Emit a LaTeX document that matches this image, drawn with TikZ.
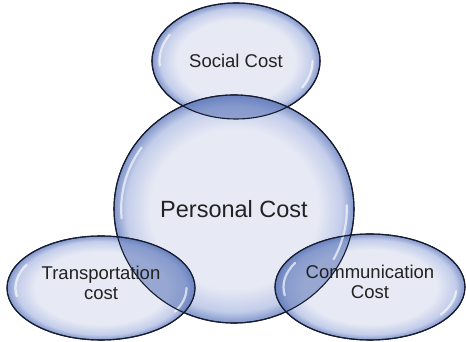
\documentclass[tikz,border=0pt]{standalone}
\usepackage{fontspec}
\setmainfont{Liberation Sans}
\usetikzlibrary{shapes.geometric}

\definecolor{bubin}{HTML}{E7EAF5}
\definecolor{bubmid}{HTML}{C3CDEA}
\definecolor{bubedge}{HTML}{8296CB}
\definecolor{bubline}{HTML}{161C30}
\definecolor{lensblue}{HTML}{5671B6}
\definecolor{costtext}{HTML}{222222}

\pgfdeclareradialshading{bubble}{\pgfpoint{0bp}{0bp}}{%
  color(0bp)=(bubin); color(17.5bp)=(bubin); color(22.5bp)=(bubmid);
  color(25bp)=(bubedge); color(50bp)=(bubedge)}

\tikzset{
  costbubble/.style={ellipse, inner sep=0pt, shade, shading=bubble, draw=bubline, line width=1.1pt},
  lens/.style={fill=lensblue, fill opacity=.55},
  rim/.style={draw=bubline, line width=1.1pt},
  gloss/.style={white, opacity=.65, line width=2.2pt, line cap=round},
  costlabel/.style={align=center, text=costtext, font=\fontsize{18.5}{20}\selectfont},
}

\begin{document}
\begin{tikzpicture}[x=1pt,y=1pt]
  \useasboundingbox (0,0) rectangle (466,342);
  % the four bubbles
  \node[costbubble, minimum width=168pt, minimum height=116pt] (social) at (236,281) {};
  \node[costbubble, minimum width=240pt, minimum height=228pt] (personal) at (234,133) {};
  \node[costbubble, minimum width=188pt, minimum height=104pt] (transport) at (101,54) {};
  \node[costbubble, minimum width=190pt, minimum height=106pt] (comm) at (370,55) {};

  % darker lenses where the bubbles overlap
  \begin{scope}
    \clip (personal.center) ellipse [x radius=120pt, y radius=114pt];
    \fill[lens] (social.center) ellipse [x radius=84pt, y radius=58pt];
    \fill[lens] (transport.center) ellipse [x radius=94pt, y radius=52pt];
    \fill[lens] (comm.center) ellipse [x radius=95pt, y radius=53pt];
  \end{scope}

  % glossy highlights
  \draw[gloss] ([shift={(150:76.5pt and 52.8pt)}]social.center) arc [start angle=150, end angle=185, x radius=76.5pt, y radius=52.8pt];
  \draw[gloss] ([shift={(-30:76.5pt and 52.8pt)}]social.center) arc [start angle=-30, end angle=0, x radius=76.5pt, y radius=52.8pt];
  \draw[gloss] ([shift={(145:112.8pt and 107.2pt)}]personal.center) arc [start angle=145, end angle=185, x radius=112.8pt, y radius=107.2pt];
  \draw[gloss] ([shift={(-28:112.8pt and 107.2pt)}]personal.center) arc [start angle=-28, end angle=2, x radius=112.8pt, y radius=107.2pt];
  \draw[gloss] ([shift={(150:85.5pt and 47.3pt)}]transport.center) arc [start angle=150, end angle=190, x radius=85.5pt, y radius=47.3pt];
  \draw[gloss] ([shift={(-30:85.5pt and 47.3pt)}]transport.center) arc [start angle=-30, end angle=0, x radius=85.5pt, y radius=47.3pt];
  \draw[gloss] ([shift={(150:86.5pt and 48.2pt)}]comm.center) arc [start angle=150, end angle=190, x radius=86.5pt, y radius=48.2pt];
  \draw[gloss] ([shift={(-35:86.5pt and 48.2pt)}]comm.center) arc [start angle=-35, end angle=-5, x radius=86.5pt, y radius=48.2pt];

  % outlines on top
  \draw[rim] (social.center) ellipse [x radius=84pt, y radius=58pt];
  \draw[rim] (personal.center) ellipse [x radius=120pt, y radius=114pt];
  \draw[rim] (transport.center) ellipse [x radius=94pt, y radius=52pt];
  \draw[rim] (comm.center) ellipse [x radius=95pt, y radius=53pt];

  % labels
  \node[costlabel] (sociallabel) at (social.center) {Social Cost};
  \node[costlabel, font=\fontsize{23.5}{26}\selectfont] (personallabel) at (personal.center) {Personal Cost};
  \node[costlabel] (transportlabel) at ([yshift=5pt]transport.center) {Transportation\\cost};
  \node[costlabel] (commlabel) at ([yshift=5pt]comm.center) {Communication\\Cost};
\end{tikzpicture}
\end{document}
